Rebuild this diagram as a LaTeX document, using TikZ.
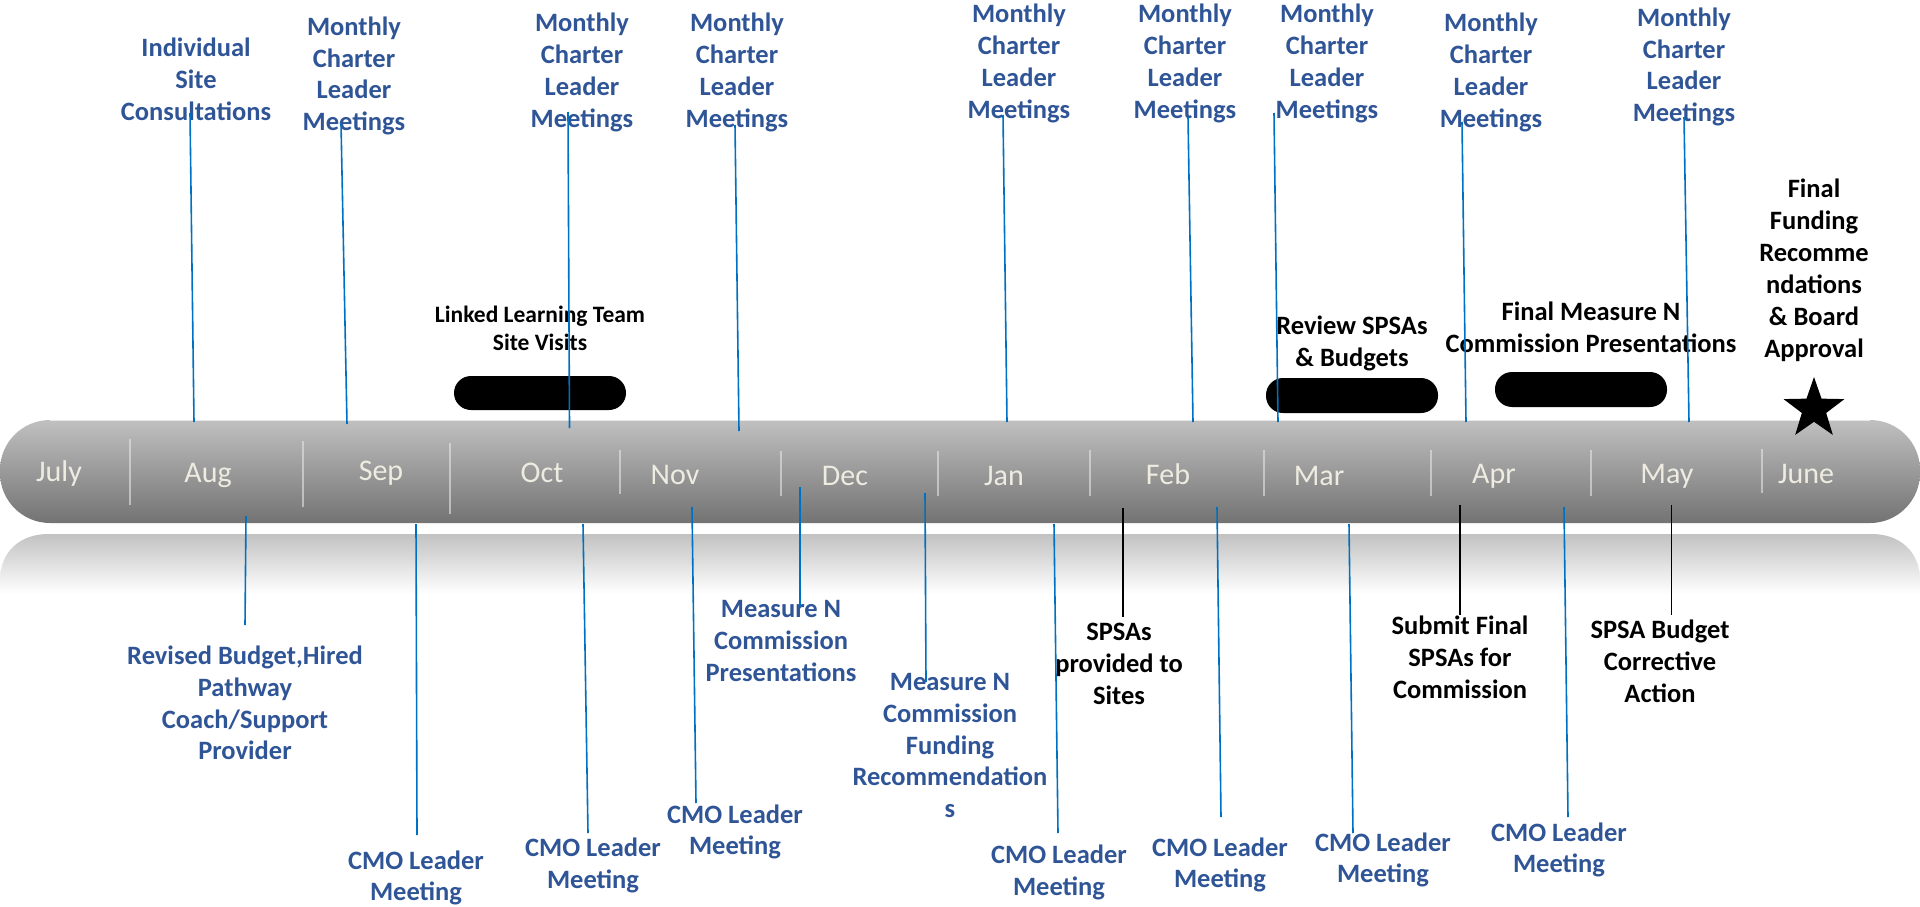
\documentclass[tikz,border=0pt]{standalone}
\usepackage{fontspec}
\setmainfont{Carlito}
\usetikzlibrary{shapes.geometric}
\definecolor{txtblue}{HTML}{2F5597}
\definecolor{lineblue}{HTML}{0070C0}
\definecolor{monthcol}{HTML}{EEECE1}
\definecolor{bartop}{HTML}{C0C0C0}
\definecolor{barbot}{HTML}{737373}
\definecolor{refltop}{HTML}{C2C2C2}
\tikzset{
  bluetxt/.style={text=txtblue, font=\bfseries\fontsize{26.5}{31.8}\selectfont, align=center, inner sep=0pt},
  blacktxt/.style={text=black, font=\bfseries\fontsize{26.5}{32}\selectfont, align=center, inner sep=0pt},
  smallblack/.style={text=black, font=\bfseries\fontsize{23.5}{28}\selectfont, align=center, inner sep=0pt},
  month/.style={text=monthcol, font=\fontsize{30}{36}\selectfont, inner sep=0pt},
  bline/.style={draw=lineblue, line width=1.6pt},
  kline/.style={draw=black, line width=1.6pt},
  sep/.style={draw=white!80!gray, opacity=0.6, line width=1.4pt},
  pill/.style={fill=black, rounded corners=17pt}
}
\begin{document}
\begin{tikzpicture}[x=1pt,y=-1pt]
\useasboundingbox (0,0) rectangle (1920,907);
% reflection
\shade[top color=refltop, bottom color=white]
  (0,594) -- (0,580) .. controls (0,552) and (20,534) .. (48,534) -- (1872,534)
  .. controls (1900,534) and (1920,552) .. (1920,580) -- (1920,594) -- cycle;
% bar
\shade[top color=bartop, bottom color=barbot, rounded corners=50pt] (0,420) rectangle (1920,523);
\draw[white!82!gray, line width=1.2pt] (50,420.8) -- (1870,420.8);
% separators
\foreach \x/\a/\b in {130/439/505, 303/441/507, 450/443/514, 620/450/494, 781/451/496, 938/451/496, 1090/450/496, 1264/450/496, 1431/450/496, 1591/450/496, 1762/449/493}
  \draw[sep] (\x,\a) -- (\x,\b);
% months
\node[month] (mjul) at (59,473) {July};
\node[month] (maug) at (208,475) {Aug};
\node[month] (msep) at (381,473) {Sep};
\node[month] (moct) at (542,473) {Oct};
\node[month] (mnov) at (675,475) {Nov};
\node[month] (mdec) at (845,476) {Dec};
\node[month] (mjan) at (1004,476) {Jan};
\node[month] (mfeb) at (1168,474) {Feb};
\node[month] (mmar) at (1319,476) {Mar};
\node[month] (mapr) at (1494,476) {Apr};
\node[month] (mmay) at (1667,476) {May};
\node[month] (mjun) at (1806,474) {June};
% pills and star
\fill[pill] (454,376) rectangle (626,410);
\fill[pill] (1266,378) rectangle (1438,413);
\fill[pill] (1495,372) rectangle (1667,407);
\node[star, star points=5, star point ratio=2.5, fill=black, minimum size=64pt, inner sep=0pt] (star) at (1814,409) {};
% top blue texts
\node[bluetxt] (t1) at (196,79) {Individual\\Site\\Consultations};
\node[bluetxt] (t2) at (354,76) {Monthly\\Charter\\Leader\\Meetings};
\node[bluetxt] (t3) at (582,72.5) {Monthly\\Charter\\Leader\\Meetings};
\node[bluetxt] (t4) at (737,72.5) {Monthly\\Charter\\Leader\\Meetings};
\node[bluetxt] (t5) at (1019,63.5) {Monthly\\Charter\\Leader\\Meetings};
\node[bluetxt] (t6) at (1185,63.5) {Monthly\\Charter\\Leader\\Meetings};
\node[bluetxt] (t7) at (1327,63.5) {Monthly\\Charter\\Leader\\Meetings};
\node[bluetxt] (t8) at (1491,72.5) {Monthly\\Charter\\Leader\\Meetings};
\node[bluetxt] (t9) at (1684,67) {Monthly\\Charter\\Leader\\Meetings};
% top black texts
\node[smallblack] (k1) at (540,328) {Linked Learning Team\\Site Visits};
\node[blacktxt] (k2) at (1352,343.5) {Review SPSAs\\\& Budgets};
\node[blacktxt] (k3) at (1591,327) {Final Measure N\\Commission Presentations};
\node[blacktxt] (k4) at (1814,270) {Final\\Funding\\Recomme\\ndations\\\& Board\\Approval};
% bottom blue texts
\node[bluetxt] (b1) at (245,703) {Revised Budget,Hired\\Pathway\\Coach/Support\\Provider};
\node[bluetxt] (b2) at (416,878) {CMO Leader\\Meeting};
\node[bluetxt] (b3) at (593,865.5) {CMO Leader\\Meeting};
\node[bluetxt] (b4) at (735,832) {CMO Leader\\Meeting};
\node[bluetxt] (b5) at (781,641) {Measure N\\Commission\\Presentations};
\node[bluetxt] (b6) at (950,745.6) {Measure N\\Commission\\Funding\\Recommendation\\s};
\node[bluetxt] (b7) at (1059,872.5) {CMO Leader\\Meeting};
\node[bluetxt] (b8) at (1220,865) {CMO Leader\\Meeting};
\node[bluetxt] (b9) at (1383,860) {CMO Leader\\Meeting};
\node[bluetxt] (b10) at (1559,850) {CMO Leader\\Meeting};
% bottom black texts
\node[blacktxt] (s1) at (1119,664) {SPSAs\\provided to\\Sites};
\node[blacktxt] (s2) at (1460,657.5) {Submit Final\\SPSAs for\\Commission};
\node[blacktxt] (s3) at (1660,661) {SPSA Budget\\Corrective\\Action};
% connector end points
\coordinate (a1) at (190,113); \coordinate (z1) at (194,422);
\coordinate (a2) at (341,123); \coordinate (z2) at (347,424);
\coordinate (a3) at (568,112); \coordinate (z3) at (569.5,428);
\coordinate (a4) at (735,125); \coordinate (z4) at (739,431);
\coordinate (a5) at (1003,115); \coordinate (z5) at (1007,422);
\coordinate (a6) at (1188,117); \coordinate (z6) at (1193,422);
\coordinate (a7) at (1274,113); \coordinate (z7) at (1278,422);
\coordinate (a8) at (1462,122); \coordinate (z8) at (1466,422);
\coordinate (a9) at (1684,117); \coordinate (z9) at (1689,422);
\coordinate (c1) at (246,516); \coordinate (d1) at (245,625);
\coordinate (c2) at (416,524); \coordinate (d2) at (417,835);
\coordinate (c3) at (583,524); \coordinate (d3) at (588,833);
\coordinate (c4) at (692,507); \coordinate (d4) at (696,803);
\coordinate (c5) at (800,487); \coordinate (d5) at (800,607);
\coordinate (c6) at (925,493); \coordinate (d6) at (926,682);
\coordinate (c7) at (1054,524); \coordinate (d7) at (1058,833);
\coordinate (c8) at (1217,507); \coordinate (d8) at (1221,817);
\coordinate (c9) at (1349,524); \coordinate (d9) at (1353,833);
\coordinate (c10) at (1564,507); \coordinate (d10) at (1568,817);
\coordinate (e1) at (1123,508); \coordinate (f1) at (1123,617);
\coordinate (e2) at (1460,505); \coordinate (f2) at (1460,615);
\coordinate (e3) at (1671.5,505); \coordinate (f3) at (1671.5,615);
% connectors
\foreach \i in {1,...,9} \draw[bline] (a\i) -- (z\i);
\foreach \i in {1,...,10} \draw[bline] (c\i) -- (d\i);
\foreach \i in {1,2,3} \draw[kline] (e\i) -- (f\i);
\end{tikzpicture}
\end{document}
